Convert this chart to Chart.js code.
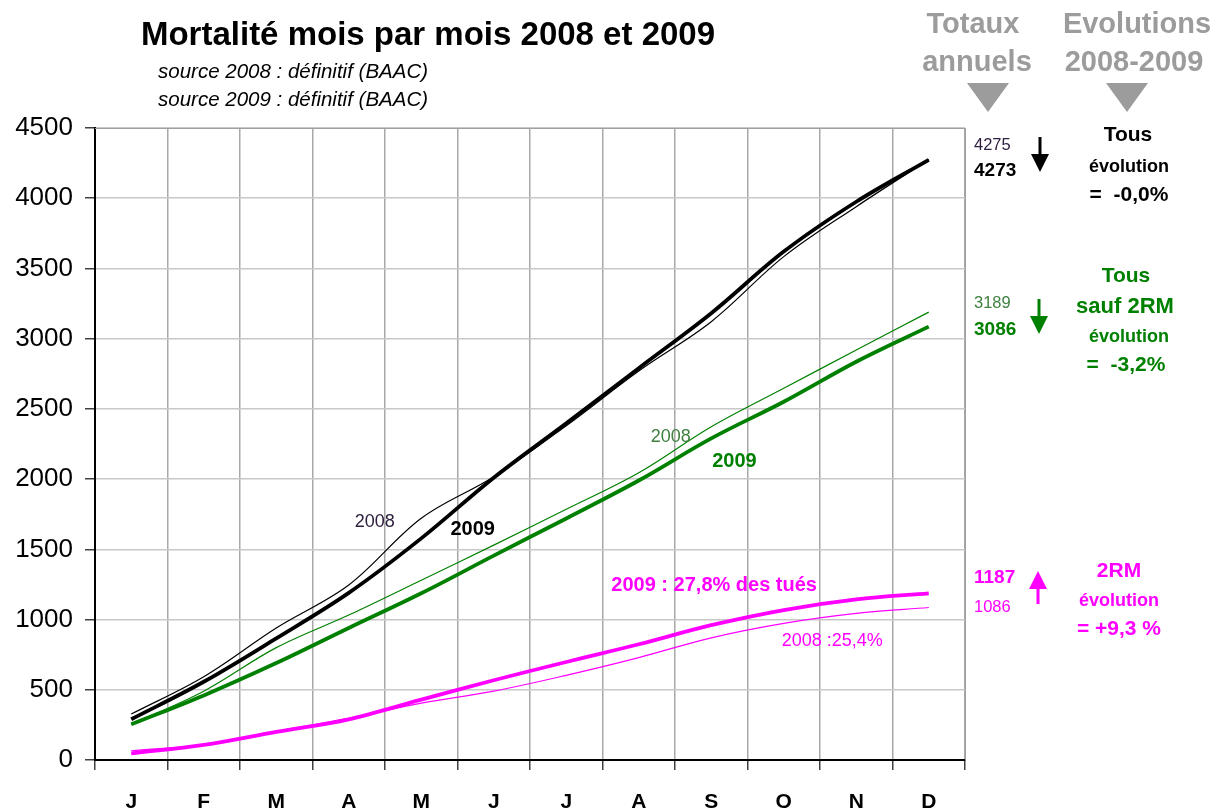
<!DOCTYPE html>
<html>
<head>
<meta charset="utf-8">
<script src="https://cdn.jsdelivr.net/npm/chart.js@4"></script>
<style>
  html, body { margin: 0; padding: 0; background: #fff; }
  #wrap { width: 1216px; height: 812px; }
</style>
</head>
<body>
<div id="wrap"><canvas id="graphique"></canvas></div>
<script>
// mois
const mois = ["J", "F", "M", "A", "M", "J", "J", "A", "S", "O", "N", "D"];

// cumuls
const tous2008 = [327, 593, 940, 1246, 1721, 2017, 2380, 2770, 3121, 3584, 3940, 4275];
const tous2009 = [290, 557, 866, 1190, 1578, 2010, 2397, 2790, 3181, 3620, 3975, 4273];
const sauf2RM2008 = [254, 490, 800, 1032, 1280, 1530, 1785, 2045, 2373, 2647, 2919, 3189];
const sauf2RM2009 = [254, 460, 690, 940, 1187, 1455, 1720, 1990, 2290, 2551, 2836, 3086];
const deuxRM2008 = [66, 110, 205, 297, 405, 490, 603, 729, 870, 973, 1044, 1086];
const deuxRM2009 = [47, 107, 200, 290, 430, 568, 698, 824, 960, 1068, 1144, 1187];

const ticksY = [0, 500, 1000, 1500, 2000, 2500, 3000, 3500, 4000, 4500];

const NOIR = "#000000";
const VERT = "#008000";
const ROSE = "#ff00ff";
const GRIS = "#9c9c9c";
const POLICE = "'Liberation Sans', Arial, sans-serif";

// étiquettes dans le graphique (index de mois, valeur)
const etiquettes = [
  { txt: "2008", x: 3.36, y: 1695, font: "18px", color: "#302040" },
  { txt: "2009", x: 4.71, y: 1638, font: "bold 20px", color: NOIR },
  { txt: "2008", x: 7.44, y: 2300, font: "18px", color: "#408040" },
  { txt: "2009", x: 8.32, y: 2129, font: "bold 20px", color: VERT },
  { txt: "2009 : 27,8% des tués", x: 8.04, y: 1246, font: "bold 20px", color: ROSE },
  { txt: "2008 :25,4%", x: 9.67, y: 847, font: "18px", color: ROSE }
];

function texte(ctx, txt, x, y, font, color, align) {
  ctx.font = font + " " + POLICE;
  ctx.fillStyle = color;
  ctx.textAlign = align || "center";
  ctx.textBaseline = "middle";
  ctx.fillText(txt, x, y);
}

function fleche(ctx, x, y1, y2, color, haut) {
  // tige + pointe
  ctx.fillStyle = color;
  ctx.strokeStyle = color;
  ctx.lineWidth = 3;
  ctx.beginPath();
  if (haut) {
    ctx.moveTo(x, y2); ctx.lineTo(x, y1 + 10);
    ctx.stroke();
    ctx.beginPath();
    ctx.moveTo(x, y1); ctx.lineTo(x - 9, y1 + 18); ctx.lineTo(x + 9, y1 + 18);
  } else {
    ctx.moveTo(x, y1); ctx.lineTo(x, y2 - 10);
    ctx.stroke();
    ctx.beginPath();
    ctx.moveTo(x, y2); ctx.lineTo(x - 9, y2 - 18); ctx.lineTo(x + 9, y2 - 18);
  }
  ctx.closePath();
  ctx.fill();
}

function triangle(ctx, x, y) {
  ctx.fillStyle = GRIS;
  ctx.beginPath();
  ctx.moveTo(x - 21, y - 14);
  ctx.lineTo(x + 21, y - 14);
  ctx.lineTo(x, y + 15);
  ctx.closePath();
  ctx.fill();
}

const annotations = {
  id: "annotations",
  afterDraw(chart) {
    const ctx = chart.ctx;
    const sx = chart.scales.x;
    const sy = chart.scales.y;
    ctx.save();

    // cadre haut / droite
    ctx.strokeStyle = "#a0a0a0";
    ctx.lineWidth = 1;
    ctx.beginPath();
    ctx.moveTo(chart.chartArea.left, chart.chartArea.top + 0.5);
    ctx.lineTo(chart.chartArea.right + 0.5, chart.chartArea.top + 0.5);
    ctx.lineTo(chart.chartArea.right + 0.5, chart.chartArea.bottom);
    ctx.stroke();

    // titres
    texte(ctx, "Mortalité mois par mois 2008 et 2009", 428, 36, "bold 33px", NOIR);
    texte(ctx, "source 2008 : définitif (BAAC)", 158, 72, "italic 20.5px", NOIR, "left");
    texte(ctx, "source 2009 : définitif (BAAC)", 158, 100, "italic 20.5px", NOIR, "left");

    etiquettes.forEach(e => {
      texte(ctx, e.txt, sx.getPixelForValue(e.x), sy.getPixelForValue(e.y), e.font, e.color);
    });

    // colonne de droite
    texte(ctx, "Totaux", 973, 25, "bold 29px", GRIS);
    texte(ctx, "annuels", 977, 63, "bold 29px", GRIS);
    texte(ctx, "Evolutions", 1137, 25, "bold 29px", GRIS);
    texte(ctx, "2008-2009", 1134, 63, "bold 29px", GRIS);
    triangle(ctx, 988, 97);
    triangle(ctx, 1127, 97);

    const n = mois.length - 1;
    texte(ctx, String(tous2008[n]), 974, 145, "16.5px", "#302040", "left");
    texte(ctx, String(tous2009[n]), 974, 171, "bold 19px", NOIR, "left");
    fleche(ctx, 1040, 137, 172, NOIR, false);
    texte(ctx, "Tous", 1128, 135, "bold 21px", NOIR);
    texte(ctx, "évolution", 1129, 167, "bold 18px", NOIR);
    texte(ctx, "=  -0,0%", 1129, 195, "bold 21px", NOIR);

    texte(ctx, String(sauf2RM2008[n]), 974, 303, "16.5px", "#408040", "left");
    texte(ctx, String(sauf2RM2009[n]), 974, 330, "bold 19px", VERT, "left");
    fleche(ctx, 1039, 299, 334, VERT, false);
    texte(ctx, "Tous", 1126, 276, "bold 21px", VERT);
    texte(ctx, "sauf 2RM", 1125, 307, "bold 22px", VERT);
    texte(ctx, "évolution", 1129, 337, "bold 18px", VERT);
    texte(ctx, "=  -3,2%", 1126, 365, "bold 21px", VERT);

    texte(ctx, String(deuxRM2009[n]), 974, 578, "bold 19px", ROSE, "left");
    texte(ctx, String(deuxRM2008[n]), 974, 607, "16.5px", ROSE, "left");
    fleche(ctx, 1038, 571, 604, ROSE, true);
    texte(ctx, "2RM", 1119, 571, "bold 21px", ROSE);
    texte(ctx, "évolution", 1119, 601, "bold 18px", ROSE);
    texte(ctx, "= +9,3 %", 1119, 629, "bold 21px", ROSE);

    ctx.restore();
  }
};

function serie(label, data, color, width) {
  return {
    label: label,
    data: data,
    borderColor: color,
    backgroundColor: color,
    borderWidth: width,
    pointRadius: 0,
    tension: 0.35,
    fill: false
  };
}

new Chart(document.getElementById("graphique"), {
  type: "line",
  data: {
    labels: mois,
    datasets: [
      serie("Tous 2008", tous2008, NOIR, 1.2),
      serie("Tous 2009", tous2009, NOIR, 3.8),
      serie("Tous sauf 2RM 2008", sauf2RM2008, VERT, 1.2),
      serie("Tous sauf 2RM 2009", sauf2RM2009, VERT, 3.8),
      serie("2RM 2008", deuxRM2008, ROSE, 1.2),
      serie("2RM 2009", deuxRM2009, ROSE, 3.8)
    ]
  },
  options: {
    responsive: true,
    maintainAspectRatio: false,
    animation: false,
    layout: { padding: { left: 0, right: 251, top: 128, bottom: 0 } },
    plugins: {
      legend: { display: false },
      tooltip: { enabled: false }
    },
    scales: {
      x: {
        offset: true,
        afterFit: axis => { axis.height = 52; },
        grid: {
          offset: true,
          color: "#a8a8a8",
          lineWidth: 1.5,
          tickLength: 10,
          tickColor: "#404040"
        },
        border: { color: NOIR, width: 2 },
        ticks: {
          color: NOIR,
          font: { family: POLICE, size: 21, weight: "bold" },
          padding: 20
        }
      },
      y: {
        min: 0,
        max: 4500,
        afterBuildTicks: axis => { axis.ticks = ticksY.map(v => ({ value: v })); },
        afterFit: axis => { axis.width = 95; },
        grid: {
          color: "#c8c8c8",
          lineWidth: 1.5,
          tickLength: 10,
          tickColor: "#404040"
        },
        border: { color: NOIR, width: 2 },
        ticks: {
          color: NOIR,
          font: { family: POLICE, size: 26 },
          padding: 12,
          callback: v => String(v)
        }
      }
    }
  },
  plugins: [annotations]
});
</script>
</body>
</html>
